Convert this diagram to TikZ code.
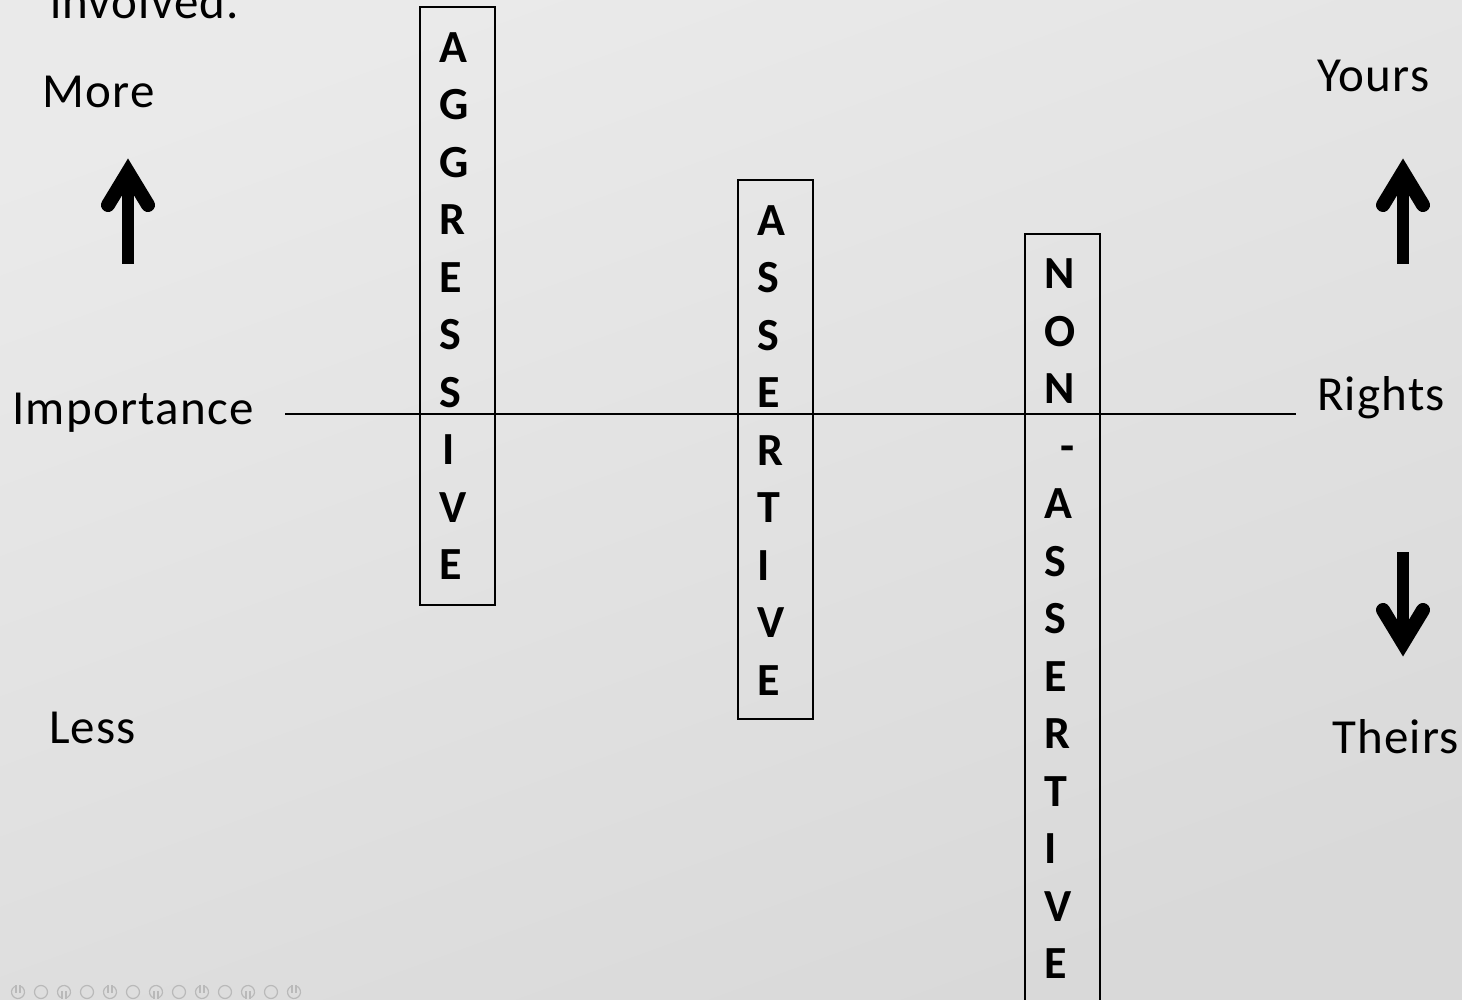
\documentclass[tikz,border=0pt]{standalone}
\usepackage{fontspec}
\setmainfont{Carlito}
\newfontfamily\lblfont[LetterSpace=2.5]{Carlito}
\definecolor{bgA}{RGB}{234,234,234}
\definecolor{bgB}{RGB}{217,217,217}
\definecolor{icon}{RGB}{185,185,185}
\tikzset{
  lbl/.style={anchor=base west, inner sep=0pt, font=\lblfont\fontsize{49}{58}\selectfont},
  box/.style={draw=black, line width=2pt, minimum width=75pt, inner sep=0pt},
  letters/.style={anchor=west, inner sep=0pt, align=left, font=\fontsize{46}{57.5}\selectfont\bfseries},
  axisline/.style={draw=black, line width=2pt},
  bigarrow/.style={line width=14pt, line cap=round, line join=miter, miter limit=10},
  ic/.style={draw=icon, line width=1.2pt}
}
\begin{document}
\begin{tikzpicture}[x=1pt, y=-1pt]
\useasboundingbox (0,0) rectangle (1462,1000);
\clip (0,0) rectangle (1462,1000);
\shade[top color=bgA, bottom color=bgB, shading angle=20] (0,0) rectangle (1462,1000);

% labels
\node[lbl] (involved) at (50,19) {involved.};
\node[lbl] (more) at (42,108) {More};
\node[lbl] (importance) at (12,424) {Importance};
\node[lbl] (less) at (49,743) {Less};
\node[lbl] (yours) at (1317,92) {Yours};
\node[lbl] (rights) at (1317,410) {Rights};
\node[lbl] (theirs) at (1332,753) {Theirs};

% axis line
\coordinate (lineL) at (285,414);
\coordinate (lineR) at (1296,414);
\draw[axisline] (lineL) -- (lineR);

% boxes
\node[box, minimum height=598pt] (agg) at (457.5,306) {};
\node[box, minimum height=539pt] (ass) at (775.5,449.5) {};
\node[box, minimum height=770pt] (non) at (1062.5,619) {};

\node[letters] (aggtxt) at (439,306) {A\\G\\G\\R\\E\\S\\S\\\hspace{3pt}I\\V\\E};
\node[letters] (asstxt) at (757,450.5) {A\\S\\S\\E\\R\\T\\I\\V\\E};
\node[letters] (nontxt) at (1044,619) {N\\O\\N\\\hspace{16pt}-\\A\\S\\S\\E\\R\\T\\I\\V\\E};

% arrows
\fill (122,264) rectangle (134,172);
\draw[bigarrow] (108,205) -- (128,172) -- (148,205);

\fill (1397,264) rectangle (1409,172);
\draw[bigarrow] (1383,205) -- (1403,172) -- (1423,205);

\fill (1397,552) rectangle (1409,643);
\draw[bigarrow] (1383,610) -- (1403,643) -- (1423,610);

% bottom icons
\foreach \i in {0,...,12}{
  \pgfmathsetmacro{\xx}{18+23*\i}
  \pgfmathtruncatemacro{\k}{mod(\i,4)}
  \ifnum\k=0
    \draw[ic] (\xx,992) ++(-60:6.5) arc (-60:240:6.5);
    \draw[ic] (\xx-2,985) -- (\xx-2,993);
    \draw[ic] (\xx+2,985) -- (\xx+2,993);
  \else\ifnum\k=2
    \draw[ic] (\xx,992) ++(120:6.5) arc (120:420:6.5);
    \draw[ic] (\xx-2,991) -- (\xx-2,999);
    \draw[ic] (\xx+2,991) -- (\xx+2,999);
  \else
    \draw[ic] (\xx,992) circle (6.5);
  \fi\fi
}
\end{tikzpicture}
\end{document}
